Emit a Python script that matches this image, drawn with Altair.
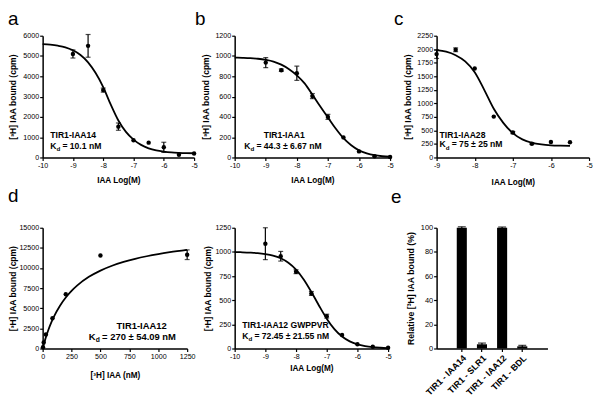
import altair as alt
import pandas as pd

FONT = "Liberation Sans"
INK = "#000000"

letters = ["a", "b", "c", "d", "e"]
ytitle_cpm = "[³H] IAA bound (cpm)"
xtitle_log = "IAA Log(M)"
xtitle_conc = "[³H] IAA (nM)"

log_ticks = [-10, -9, -8, -7, -6, -5]
log_ticks_c = [-9, -8, -7, -6, -5]
curve_x = [-10, -9.75, -9.5, -9.25, -9, -8.75, -8.5, -8.25, -8, -7.75, -7.5,
           -7.25, -7, -6.75, -6.5, -6.25, -6, -5.75, -5.5, -5.25, -5]
dose_x = [-9, -8.5, -8, -7.5, -7, -6.5, -6, -5.5, -5]

# a: TIR1-IAA14
a_name, a_kd = "TIR1-IAA14", "= 10.1 nM"
a_y = [5100, 5500, 3320, 1520, 850, 730, 500, 130, 200]
a_err = [200, 560, 100, 180, 0, 0, 250, 0, 0]
a_cy = [5590, 5560, 5510, 5430, 5280, 5050, 4690, 4160, 3470, 2600, 1820,
        1260, 880, 620, 450, 345, 285, 248, 228, 215, 208]
a_yticks = [0, 1000, 2000, 3000, 4000, 5000, 6000]

# b: TIR1-IAA1
b_name, b_kd = "TIR1-IAA1", "= 44.3 ± 6.67 nM"
b_y = [935, 860, 830, 605, 400, 198, 60, 12, 5]
b_err = [50, 12, 70, 25, 25, 0, 0, 0, 0]
b_cy = [984, 982, 979, 973, 962, 945, 915, 870, 810, 730, 620,
        505, 395, 285, 190, 120, 70, 40, 22, 12, 7]
b_yticks = [0, 200, 400, 600, 800, 1000, 1200]

# c: TIR1-IAA28
c_name, c_kd = "TIR1-IAA28", "= 75 ± 25 nM"
c_x = [-9, -8.5, -8, -7.5, -7, -6.5, -6, -5.5]
c_y = [1910, 1990, 1645, 755, 460, 255, 285, 280]
c_err = [80, 35, 0, 0, 20, 15, 0, 0]
c_cx = [-9, -8.75, -8.5, -8.25, -8, -7.75, -7.5, -7.25, -7, -6.75, -6.5,
        -6.25, -6, -5.75, -5.5]
c_cy = [1985, 1955, 1890, 1775, 1575, 1250, 900, 640, 450, 335, 272,
        240, 224, 217, 213]
c_yticks = [0, 250, 500, 750, 1000, 1250, 1500, 1750, 2000, 2250]

# d: saturation TIR1-IAA12
d_name, d_kd = "TIR1-IAA12", "= 270 ± 54.09 nM"
d_x = [3, 9, 28, 85, 200, 500, 1250]
d_y = [150, 750, 1750, 3750, 6750, 11550, 11650]
d_err = [0, 0, 0, 0, 0, 0, 600]
d_cx = [0, 10, 25, 50, 75, 100, 150, 200, 250, 300, 400, 500, 600, 700,
        800, 900, 1000, 1100, 1250]
d_cy = [0, 530, 1260, 2330, 3240, 4030, 5320, 6340, 7160, 7840, 8900,
        9680, 10280, 10750, 11140, 11460, 11730, 11960, 12250]
d_xticks = [0, 250, 500, 750, 1000, 1250]
d_yticks = [0, 2500, 5000, 7500, 10000, 12500, 15000]

# d (right): TIR1-IAA12 GWPPVR
g_name, g_kd = "TIR1-IAA12 GWPPVR", "= 72.45 ± 21.55 nM"
g_y = [1085, 955, 795, 570, 335, 140, 45, 18, 8]
g_err = [165, 50, 20, 20, 20, 0, 0, 0, 0]
g_cy = [998, 996, 993, 988, 978, 962, 934, 888, 817, 715, 585,
        443, 309, 201, 124, 74, 43, 25, 14, 8, 4]
g_yticks = [0, 250, 500, 750, 1000, 1250]

# e: relative binding
e_cat = ["TIR1 - IAA14", "TIR1 - SLR1", "TIR1 - IAA12", "TIR1 - BDL"]
e_val = [100, 3.5, 100, 1.8]
e_err = [0.8, 1.0, 0.6, 0.8]
e_yticks = [0, 20, 40, 60, 80, 100]


def axis_q(values, title, **kw):
    base = dict(values=values, title=title, grid=False, domainColor=INK,
                domainWidth=1.5, tickColor=INK, tickWidth=1.2, tickSize=3,
                labelFont=FONT, labelFontSize=7.2, labelColor=INK,
                labelPadding=1, labelFlush=False, labelOverlap=False,
                labelExpr="'' + datum.value", titleFont=FONT,
                titleFontSize=8.3, titleFontWeight="bold", titleColor=INK)
    base.update(kw)
    return alt.Axis(**base)


def text_layer(txt, x, y, size, weight="bold", align="left"):
    return alt.Chart(pd.DataFrame({"t": [txt]})).mark_text(
        font=FONT, fontSize=size, fontWeight=weight, color=INK, align=align,
        baseline="alphabetic").encode(x=alt.value(x), y=alt.value(y), text="t:N")


def kd_layers(rest, x, y, size):
    kw = 0.72 * size
    dw = 0.61 * size * 0.72
    return [text_layer("K", x, y, size),
            text_layer("d", x + kw, y + 2.5, size * 0.72),
            text_layer(rest, x + kw + dw + 0.25 * size, y, size)]


def curve_panel(px, py, perr, cx, cy, xdom, xticks, ydom, yticks, w, h,
                xtitle, xtitle_y, ytitle_x, letter, lx, ly,
                name, nx, ny, nalign, kd, kx, ky, fsize=8.7):
    pts = pd.DataFrame({"x": px, "y": py})
    eb = pd.DataFrame({
        "x": [x for x, e in zip(px, perr) if e > 0],
        "lo": [v - e for v, e in zip(py, perr) if e > 0],
        "hi": [v + e for v, e in zip(py, perr) if e > 0]})
    crv = pd.DataFrame({"x": cx, "y": cy})
    xs = alt.Scale(domain=xdom, nice=False, zero=False)
    ys = alt.Scale(domain=ydom, nice=False, zero=False)
    xax = axis_q(xticks, xtitle, titleY=xtitle_y, titleBaseline="alphabetic")
    yax = axis_q(yticks, ytitle_cpm, titleX=ytitle_x, titleY=h / 2,
                 titleBaseline="middle", titleFontSize=8.6)
    X = alt.X("x:Q", scale=xs, axis=xax)

    def Yf(f):
        return alt.Y(f, type="quantitative", scale=ys, axis=yax)

    line = alt.Chart(crv).mark_line(color=INK, strokeWidth=1.8,
                                    interpolate="monotone").encode(x=X, y=Yf("y"))
    rule = alt.Chart(eb).mark_rule(color=INK, strokeWidth=1.2).encode(
        x=X, y=Yf("lo"), y2="hi:Q")
    cap_hi = alt.Chart(eb).mark_tick(color=INK, orient="horizontal", size=5,
                                     thickness=1.2).encode(x=X, y=Yf("hi"))
    cap_lo = alt.Chart(eb).mark_tick(color=INK, orient="horizontal", size=5,
                                     thickness=1.2).encode(x=X, y=Yf("lo"))
    dots = alt.Chart(pts).mark_circle(size=20, color=INK, opacity=1).encode(
        x=X, y=Yf("y"))
    texts = [text_layer(name, nx, ny, fsize, align=nalign)] + kd_layers(kd, kx, ky, fsize)
    if letter:
        texts.append(text_layer(letter, lx, ly, 19, weight="normal"))
    return alt.layer(line, rule, cap_hi, cap_lo, dots, *texts).properties(width=w, height=h)


def spacer(w, h):
    return alt.Chart(pd.DataFrame({"v": [0]})).mark_point(opacity=0).encode(
        x=alt.value(0), y=alt.value(0)).properties(width=w, height=h)


H1, H2 = 123, 122

pa = curve_panel(dose_x, a_y, a_err, curve_x, a_cy, [-10, -5], log_ticks,
                 [0, 6000], a_yticks, 153, H1, xtitle_log, 25, -30,
                 letters[0], -35, -11, a_name, 7.7, 103.4, "left", a_kd, 7.7, 114)
pb = curve_panel(dose_x, b_y, b_err, curve_x, b_cy, [-10, -5], log_ticks,
                 [0, 1200], b_yticks, 157, H1, xtitle_log, 25.5, -29,
                 letters[1], -40, -11, b_name, 50, 103.4, "center", b_kd, 9.7, 114)
pc = curve_panel(c_x, c_y, c_err, c_cx, c_cy, [-9, -5], log_ticks_c,
                 [0, 2250], c_yticks, 154, H1, xtitle_log, 27, -29,
                 letters[2], -43, -11, c_name, 3, 103.4, "left", c_kd, 3, 112.5)
pd_ = curve_panel(d_x, d_y, d_err, d_cx, d_cy, [0, 1250], d_xticks,
                  [0, 15000], d_yticks, 146, H2, xtitle_conc, 29.5, -30.5,
                  letters[3], -35, -26, d_name, 100, 102.7, "center", d_kd, 46.7, 113.3,
                  fsize=9.5)
pg = curve_panel(dose_x, g_y, g_err, curve_x, g_cy, [-10, -5], log_ticks,
                 [0, 1250], g_yticks, 155, H2, xtitle_log, 22, -27,
                 "", 0, 0, g_name, 7.7, 101.7, "left", g_kd, 7.7, 112.4)

# panel e
e_df = pd.DataFrame({"c": e_cat, "v": e_val,
                     "lo": [v - e for v, e in zip(e_val, e_err)],
                     "hi": [v + e for v, e in zip(e_val, e_err)]})
exax = alt.Axis(title=None, labelAngle=-45, labelFont=FONT,
                labelFontSize=9, labelFontWeight="bold", labelColor=INK,
                domainColor=INK, domainWidth=1.5, tickColor=INK,
                tickWidth=1.2, tickSize=3, labelPadding=2)
exs = alt.Scale(paddingInner=0.5, paddingOuter=1.0)
ex = alt.X("c:N", sort=e_cat, scale=exs, axis=exax)
eys = alt.Scale(domain=[0, 100], nice=False)
eyax = axis_q(e_yticks, "Relative [³H] IAA bound (%)", titleX=-26,
              titleY=H2 / 2, titleBaseline="middle",
              titleFontSize=8.8, labelFontSize=7.5)


def EY(f):
    return alt.Y(f, type="quantitative", scale=eys, axis=eyax)


ebar = alt.Chart(e_df).mark_bar(color=INK).encode(x=ex, y=EY("v"))
erule = alt.Chart(e_df).mark_rule(color=INK, strokeWidth=1.2).encode(
    x=ex, y=EY("lo"), y2="hi:Q")
ecap = alt.Chart(e_df).mark_tick(color=INK, orient="horizontal", size=8,
                                 thickness=1.3).encode(x=ex, y=EY("hi"))
pe = alt.layer(ebar, erule, ecap, text_layer(letters[4], -46, -25, 19, weight="normal")
               ).properties(width=112, height=H2)

chart = alt.concat(
    pa, spacer(41, H1), pb, spacer(47, H1), pc,
    pd_, spacer(41, H2), pg, spacer(47, H2), pe,
    columns=5, spacing={"row": 71, "column": 0}, bounds="flush", align="each"
).properties(
    padding={"left": 0, "top": 0, "right": 0, "bottom": 0}
).configure(font=FONT, background="white").configure_view(stroke=None)

chart.save("out.html", embed_options={"renderer": "svg", "actions": False})
